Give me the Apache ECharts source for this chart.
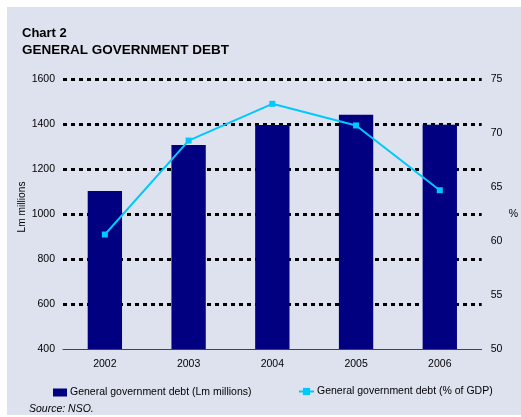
<!DOCTYPE html>
<html lang="en">
<head>
    <meta charset="UTF-8">
    <title>Chart 2</title>
    <script src="https://cdn.jsdelivr.net/npm/echarts@6/dist/echarts.min.js"></script>
    <style>
        html, body { margin: 0; padding: 0; background: #fff; }
        #main { width: 521px; height: 417px; }
    </style>
</head>
<body>
<div id="main"></div>
<script>
    // 数据
    var years = ['2002', '2003', '2004', '2005', '2006'];
    var debtLm = [1102, 1307, 1396, 1441, 1397];
    var debtPct = [60.6, 69.3, 72.7, 70.7, 64.7];
    var barName = 'General government debt (Lm millions)';
    var lineName = 'General government debt (% of GDP)';

    var font = 'Liberation Sans, Arial, sans-serif';
    var chart = echarts.init(document.getElementById('main'));

    var option = {
        animation: false,
        textStyle: { fontFamily: font },
        graphic: [
            {
                type: 'rect', z: -10, silent: true,
                shape: { x: 7, y: 7, width: 514, height: 408 },
                style: { fill: '#dde2ee' }
            },
            {
                type: 'text', left: 22, top: 27,
                style: { text: 'Chart 2', font: 'bold 13px ' + font, fill: '#000' }
            },
            {
                type: 'text', left: 22, top: 43,
                style: { text: 'GENERAL GOVERNMENT DEBT', font: 'bold 13.5px ' + font, fill: '#000' }
            },
            {
                // 左轴名称
                type: 'text', x: 22, y: 207, rotation: Math.PI / 2,
                style: { text: 'Lm millions', font: '10.2px ' + font, fill: '#000', align: 'center', verticalAlign: 'middle' }
            },
            {
                type: 'text', left: 29, top: 404,
                style: { text: 'Source: NSO.', font: 'italic 10.5px ' + font, fill: '#000' }
            }
        ],
        grid: { left: 63, right: 34, top: 79, bottom: 68 },
        legend: [
            {
                data: [barName], left: 48, top: 382, icon: 'rect',
                itemWidth: 14, itemHeight: 8, itemGap: 0,
                textStyle: { fontSize: 10.5, color: '#000', padding: [0, 0, 0, -2] }
            },
            {
                data: [lineName], left: 293, top: 381,
                itemWidth: 15, itemHeight: 9,
                textStyle: { fontSize: 10.5, color: '#000', padding: [0, 0, 0, -2] }
            }
        ],
        xAxis: {
            type: 'category',
            data: years,
            axisLine: { lineStyle: { color: '#444', width: 1 } },
            axisTick: { length: 4, lineStyle: { color: '#444' } },
            axisLabel: { color: '#000', fontSize: 10.5, margin: 10 }
        },
        yAxis: [
            {
                type: 'value', min: 400, max: 1600, interval: 200,
                axisLine: { show: false }, axisTick: { show: false },
                axisLabel: { color: '#000', fontSize: 10.5, margin: 8, formatter: function (v) { return String(v); } },
                splitLine: { showMinLine: false, lineStyle: { color: '#000', width: 3, type: [4, 4] } }
            },
            {
                type: 'value', min: 50, max: 75, interval: 5,
                name: '%', nameLocation: 'middle', nameGap: 27, nameRotate: 0,
                nameMoveOverlap: false,
                nameTextStyle: { fontSize: 10.5, color: '#000' },
                axisLine: { show: false }, axisTick: { show: false },
                axisLabel: { color: '#000', fontSize: 10.5, margin: 9 },
                splitLine: { show: false }
            }
        ],
        series: [
            {
                name: barName, type: 'bar', data: debtLm,
                barWidth: '41%',
                itemStyle: { color: '#000080' }
            },
            {
                name: lineName, type: 'line', yAxisIndex: 1, data: debtPct,
                symbol: 'rect', symbolSize: 6,
                lineStyle: { color: '#00c8ff', width: 2 },
                itemStyle: { color: '#00c8ff' }
            }
        ]
    };
    chart.setOption(option);
</script>
</body>
</html>
